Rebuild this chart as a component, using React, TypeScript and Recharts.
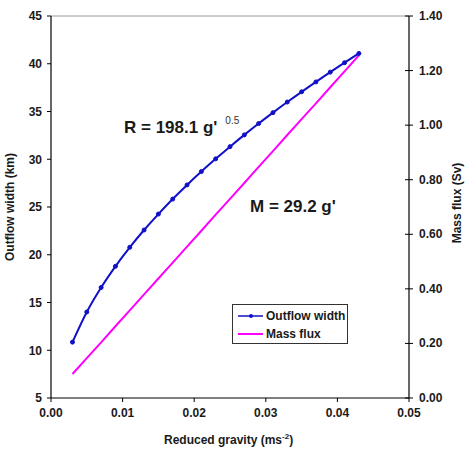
import React from "react";
import { LineChart, Line, XAxis, YAxis, ReferenceLine } from "recharts";

// reduced gravity g' (ms^-2)
const gravity = [
  0.003, 0.005, 0.007, 0.009, 0.011, 0.013, 0.015, 0.017, 0.019, 0.021, 0.023,
  0.025, 0.027, 0.029, 0.031, 0.033, 0.035, 0.037, 0.039, 0.041, 0.043,
];

// outflow width (km), left axis
const outflowWidth = [
  10.85, 14.01, 16.57, 18.79, 20.78, 22.59, 24.26, 25.83, 27.31, 28.71, 30.04,
  31.32, 32.55, 33.74, 34.88, 35.99, 37.06, 38.1, 39.12, 40.11, 41.08,
];

// mass flux (Sv), right axis
const massFlux = [
  0.088, 0.146, 0.204, 0.263, 0.321, 0.38, 0.438, 0.496, 0.555, 0.613, 0.672,
  0.73, 0.788, 0.847, 0.905, 0.964, 1.022, 1.08, 1.139, 1.197, 1.256,
];

const xTicks = [0, 0.01, 0.02, 0.03, 0.04, 0.05];
const leftTicks = [5, 10, 15, 20, 25, 30, 35, 40, 45];
const rightTicks = [0, 0.2, 0.4, 0.6, 0.8, 1.0, 1.2, 1.4];

const data = gravity.map((g, i) => ({
  g,
  width: outflowWidth[i],
  flux: massFlux[i],
}));

const FONT = "'Liberation Sans', Arial, sans-serif";
const BLUE = "#1010c8";
const MAGENTA = "#ff00ff";
const tickStyle = { fontSize: 12, fontWeight: 700, fill: "#1a1a1a", fontFamily: FONT };

function RightTick(props: any) {
  const { x, y, payload } = props;
  const axisX = x - 10;
  return (
    <g>
      <line x1={axisX - 4} x2={axisX} y1={y} y2={y} stroke="#000" />
      <text x={x} y={y} dy={4} textAnchor="start" {...tickStyle}>
        {Number(payload.value).toFixed(2)}
      </text>
    </g>
  );
}

function LegendBox() {
  const row = (label: string, color: string, dot: boolean) => (
    <div style={{ display: "flex", alignItems: "center", height: 18, whiteSpace: "nowrap" }}>
      <svg width={31} height={10} style={{ flex: "none" }}>
        <line x1={5} x2={30} y1={5} y2={5} stroke={color} strokeWidth={dot ? 1.5 : 2} />
        {dot && <circle cx={18} cy={5} r={2} fill={color} />}
      </svg>
      <span style={{ marginLeft: 2 }}>{label}</span>
    </div>
  );
  return (
    <div
      style={{
        position: "absolute",
        left: 232,
        top: 304,
        width: 116,
        height: 40,
        border: "1px solid #333",
        background: "#fff",
        fontFamily: FONT,
        fontSize: 12,
        fontWeight: 700,
        color: "#1a1a1a",
        boxSizing: "border-box",
        paddingTop: 2,
      }}
    >
      {row("Outflow width", BLUE, true)}
      {row("Mass flux", MAGENTA, false)}
    </div>
  );
}

export default function App() {
  return (
    <div
      style={{
        position: "absolute",
        left: 0,
        top: 0,
        width: 467,
        height: 450,
        background: "#fff",
      }}
    >
      <LineChart
        width={467}
        height={450}
        data={data}
        margin={{ top: 16, right: 13, bottom: 22, left: 11 }}
      >
        <XAxis
          dataKey="g"
          type="number"
          domain={[0, 0.05]}
          ticks={xTicks}
          tickFormatter={(v: number) => v.toFixed(2)}
          tick={tickStyle}
          tickSize={4}
          tickMargin={6}
          height={30}
          stroke="#000"
          axisLine={{ stroke: "#000", strokeWidth: 1.2 }}
        />
        <YAxis
          yAxisId="left"
          orientation="left"
          domain={[5, 45]}
          ticks={leftTicks}
          tick={tickStyle}
          tickSize={4}
          tickMargin={5}
          width={40}
          stroke="#000"
          axisLine={{ stroke: "#000", strokeWidth: 1.2 }}
        />
        <YAxis
          yAxisId="right"
          orientation="right"
          domain={[0, 1.4]}
          ticks={rightTicks}
          tick={<RightTick />}
          tickSize={4}
          tickMargin={6}
          width={45}
          stroke="#000"
          axisLine={{ stroke: "#000", strokeWidth: 1.2 }}
        />
        <ReferenceLine yAxisId="left" y={45} stroke="#9a9a9a" strokeWidth={1} />
        <Line
          yAxisId="right"
          dataKey="flux"
          type="linear"
          stroke={MAGENTA}
          strokeWidth={2}
          dot={false}
          isAnimationActive={false}
        />
        <Line
          yAxisId="left"
          dataKey="width"
          type="monotone"
          stroke={BLUE}
          strokeWidth={2}
          dot={{ r: 2, fill: BLUE, stroke: BLUE, strokeWidth: 1 }}
          isAnimationActive={false}
        />
      </LineChart>
      <LegendBox />
      <svg
        width={467}
        height={450}
        style={{ position: "absolute", left: 0, top: 0, pointerEvents: "none" }}
        fontFamily={FONT}
        fill="#1a1a1a"
      >
        <text
          x={14}
          y={207}
          fontSize={12}
          fontWeight={700}
          textAnchor="middle"
          transform="rotate(-90 14 207)"
        >
          Outflow width (km)
        </text>
        <text
          x={461}
          y={203}
          fontSize={12}
          fontWeight={700}
          textAnchor="middle"
          transform="rotate(-90 461 203)"
        >
          Mass flux (Sv)
        </text>
        <text x={164} y={444} fontSize={12} fontWeight={700}>
          Reduced gravity (ms
          <tspan dy={-5} fontSize={8}>-2</tspan>
          <tspan dy={5}>)</tspan>
        </text>
        <text x={124} y={133} fontSize={17} fontWeight={700}>
          R = 198.1 g'
          <tspan dx={8} dy={-9} fontSize={10} fontWeight={400} fill="#333">0.5</tspan>
        </text>
        <text x={250} y={212} fontSize={17} fontWeight={700}>
          M = 29.2 g'
        </text>
      </svg>
    </div>
  );
}
